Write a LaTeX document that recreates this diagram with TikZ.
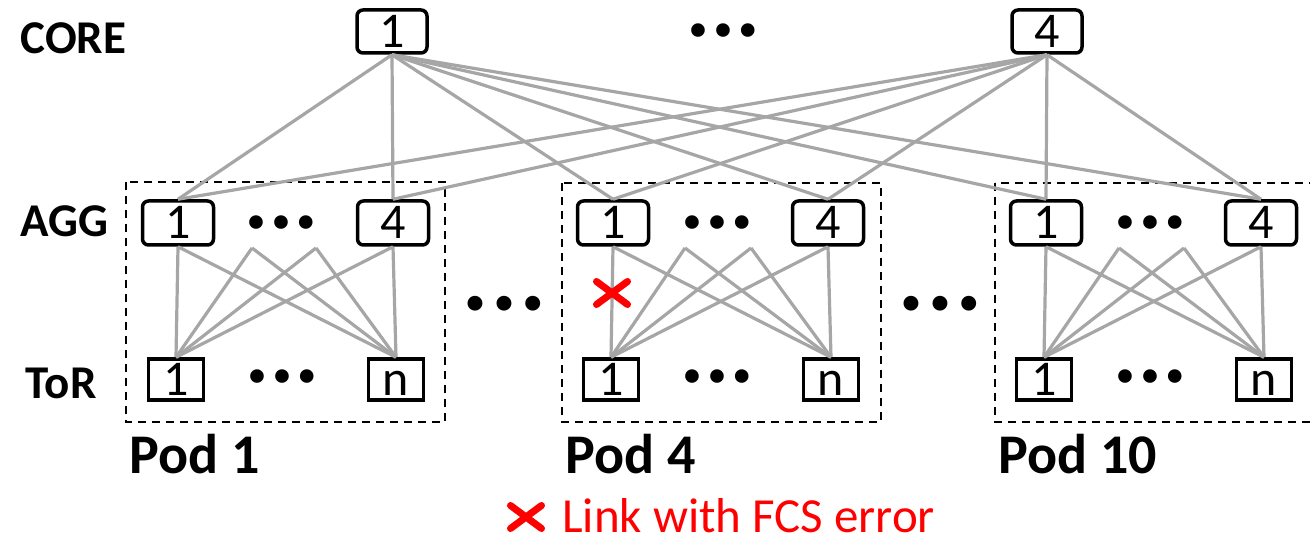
\documentclass[tikz,border=0pt]{standalone}
\usepackage{fontspec}
\setmainfont{Carlito}
\usepackage{tikz}

\definecolor{linkgray}{RGB}{166,166,166}
\newcommand{\skipdots}[1]{•\hspace{#1}•\hspace{#1}•}

\begin{document}
\begin{tikzpicture}
 [x=1pt, y=-1pt,
  core node/.style={draw, rounded corners=6pt, line width=3.5pt, minimum width=70pt, minimum height=43pt, inner sep=0pt, text height=32pt, text depth=0pt, font=\fontsize{50}{50}\selectfont},
  agg node/.style={core node, node distance=215pt, minimum width=71pt, minimum height=44pt},
  tor node/.style={draw, node distance=156.5pt, line width=3.5pt, minimum width=55pt, minimum height=41pt, inner sep=0pt, text height=32pt, text depth=0pt, font=\fontsize{50}{50}\selectfont},
  level label/.style={anchor=base west, font=\fontsize{47}{47}\selectfont\bfseries},
  pod label/.style={anchor=base west, font=\fontsize{56}{56}\selectfont\bfseries},
  dot row/.style={inner sep=0pt, font=\fontsize{32}{32}\selectfont\bfseries},
  pod box/.style={line width=2.5pt, dash pattern=on 8pt off 6pt},
  link/.style={linkgray, line width=3.2pt},
  fcs x/.pic={\draw[red, line width=7pt, line cap=round] (-15.5,-11.5) -- (15.5,11.5) (-15.5,11.5) -- (15.5,-11.5);}]

\clip (0,0) rectangle (1310,540);

% levels
\node[level label] (lcore) at (17,54) {CORE};
\node[level label] (lagg) at (17,237) {AGG};
\node[level label] (ltor) at (22,398) {ToR};

% core switches
\node[core node] (c1) at (392,31.5) {1};
\node[core node] (c4) at (1047,31.5) {4};
\node[dot row] (cd) at (723,32) {\skipdots{9pt}};

% pod 1
\draw[pod box] (126,182) rectangle (445,422);
\node[agg node] (1a1) at (178,223) {1};
\node[agg node] (1a4) [right of=1a1] {4};
\node[tor node] (1t1) [below of=1a1, xshift=-2pt] {1};
\node[tor node] (1tn) [below of=1a4, xshift=3pt] {n};
\coordinate (1m2) at (252,248);
\coordinate (1m3) at (316,248);
\node[dot row] (1ad) at (281,224) {\skipdots{9pt}};
\node[dot row] (1td) at (282,378) {\skipdots{9pt}};
\node[pod label] (1lab) at (126,473) {Pod 1};

% pod 4
\draw[pod box] (562,183) rectangle (881,422);
\node[agg node] (4a1) at (613,223) {1};
\node[agg node] (4a4) [right of=4a1] {4};
\node[tor node] (4t1) [below of=4a1, xshift=-2pt] {1};
\node[tor node] (4tn) [below of=4a4, xshift=3pt] {n};
\coordinate (4m2) at (685,248);
\coordinate (4m3) at (751,248);
\node[dot row] (4ad) at (717,224) {\skipdots{9pt}};
\node[dot row] (4td) at (717,378) {\skipdots{9pt}};
\node[pod label] (4lab) at (562,473) {Pod 4};

% pod 10
\draw[pod box] (995,183) rectangle (1330,422);
\node[agg node] (10a1) at (1046,223) {1};
\node[agg node] (10a4) [right of=10a1] {4};
\node[tor node] (10t1) [below of=10a1, xshift=-2pt] {1};
\node[tor node] (10tn) [below of=10a4, xshift=3pt] {n};
\coordinate (10m2) at (1119,248);
\coordinate (10m3) at (1184,248);
\node[dot row] (10ad) at (1150,224) {\skipdots{9pt}};
\node[dot row] (10td) at (1150,378) {\skipdots{9pt}};
\node[pod label] (10lab) at (995,473) {Pod 10};

% more pods
\node[dot row, font=\fontsize{35}{35}\selectfont\bfseries] (pd1) at (504,305) {\skipdots{11.5pt}};
\node[dot row, font=\fontsize{35}{35}\selectfont\bfseries] (pd2) at (940,305) {\skipdots{11.5pt}};

\path[link]
  (c1.south) edge (1a1.north) edge (1a4.north) edge (4a1.north)
             edge (4a4.north) edge (10a1.north) edge (10a4.north)
  (c4.south) edge (1a1.north) edge (1a4.north) edge (4a1.north)
             edge (4a4.north) edge (10a1.north) edge (10a4.north)

  (1a1.south) edge (1t1.north) edge (1tn.north)
  (1m2) edge (1t1.north) edge (1tn.north)
  (1m3) edge (1t1.north) edge (1tn.north)
  (1a4.south) edge (1t1.north) edge (1tn.north)

  (4a1.south) edge (4t1.north) edge (4tn.north)
  (4m2) edge (4t1.north) edge (4tn.north)
  (4m3) edge (4t1.north) edge (4tn.north)
  (4a4.south) edge (4t1.north) edge (4tn.north)

  (10a1.south) edge (10t1.north) edge (10tn.north)
  (10m2) edge (10t1.north) edge (10tn.north)
  (10m3) edge (10t1.north) edge (10tn.north)
  (10a4.south) edge (10t1.north) edge (10tn.north);

% broken link and its key
\pic at (612,293) {fcs x};
\pic at (526,517) {fcs x};
\node[anchor=base west, inner sep=0pt, red, font=\fontsize{49}{49}\selectfont] (key) at (562,532) {Link with FCS error};

\end{tikzpicture}
\end{document}
